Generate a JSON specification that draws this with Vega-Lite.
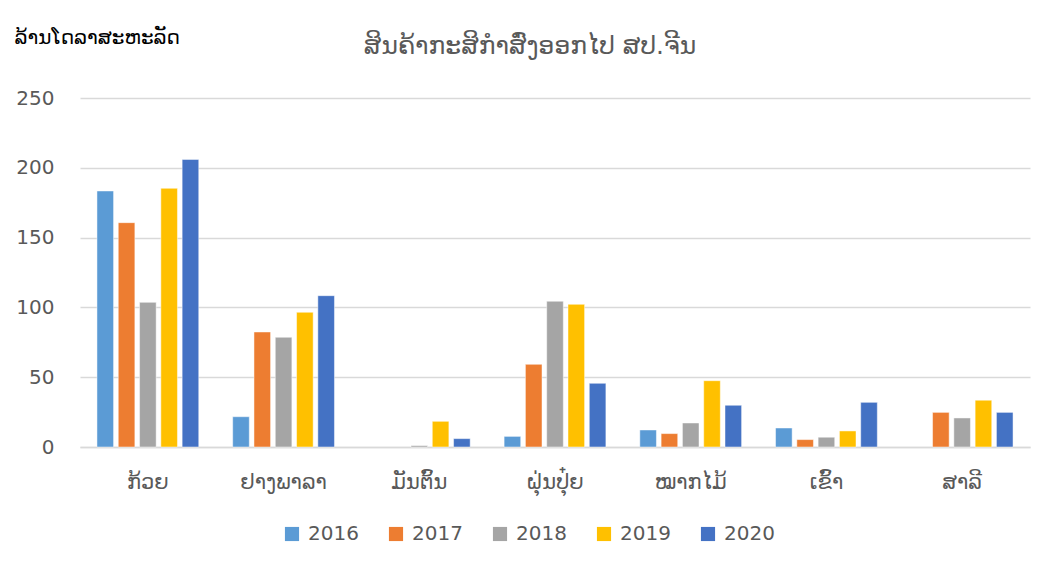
{
  "$schema": "https://vega.github.io/schema/vega-lite/v6.json",
  "autosize": "none",
  "width": 950,
  "height": 349,
  "padding": {"left": 80, "top": 98, "right": 13, "bottom": 118},
  "background": "white",
  "title": {
    "text": "ສິນຄ້າກະສິກຳສົ່ງອອກໄປ ສປ.ຈີນ",
    "anchor": "middle",
    "frame": "group",
    "fontSize": 25,
    "fontWeight": "normal",
    "color": "#595959",
    "font": "DejaVu Sans",
    "dx": -25,
    "offset": -44,
    "baseline": "middle"
  },
  "data": {
    "values": [
      {"cat": "ກ້ວຍ", "year": "2016", "value": 183.4},
      {"cat": "ກ້ວຍ", "year": "2017", "value": 160.7},
      {"cat": "ກ້ວຍ", "year": "2018", "value": 103.6},
      {"cat": "ກ້ວຍ", "year": "2019", "value": 185.3},
      {"cat": "ກ້ວຍ", "year": "2020", "value": 206.0},
      {"cat": "ຢາງພາລາ", "year": "2016", "value": 21.7},
      {"cat": "ຢາງພາລາ", "year": "2017", "value": 82.4},
      {"cat": "ຢາງພາລາ", "year": "2018", "value": 78.6},
      {"cat": "ຢາງພາລາ", "year": "2019", "value": 96.5},
      {"cat": "ຢາງພາລາ", "year": "2020", "value": 108.4},
      {"cat": "ມັນຕົ້ນ", "year": "2018", "value": 1.0},
      {"cat": "ມັນຕົ້ນ", "year": "2019", "value": 18.4},
      {"cat": "ມັນຕົ້ນ", "year": "2020", "value": 6.0},
      {"cat": "ຝຸ່ນປຸ໋ຍ", "year": "2016", "value": 7.6},
      {"cat": "ຝຸ່ນປຸ໋ຍ", "year": "2017", "value": 59.2},
      {"cat": "ຝຸ່ນປຸ໋ຍ", "year": "2018", "value": 104.4},
      {"cat": "ຝຸ່ນປຸ໋ຍ", "year": "2019", "value": 102.2},
      {"cat": "ຝຸ່ນປຸ໋ຍ", "year": "2020", "value": 45.6},
      {"cat": "ໝາກໄມ້", "year": "2016", "value": 12.2},
      {"cat": "ໝາກໄມ້", "year": "2017", "value": 9.6},
      {"cat": "ໝາກໄມ້", "year": "2018", "value": 17.2},
      {"cat": "ໝາກໄມ້", "year": "2019", "value": 47.5},
      {"cat": "ໝາກໄມ້", "year": "2020", "value": 29.9},
      {"cat": "ເຂົ້າ", "year": "2016", "value": 13.6},
      {"cat": "ເຂົ້າ", "year": "2017", "value": 5.3},
      {"cat": "ເຂົ້າ", "year": "2018", "value": 7.0},
      {"cat": "ເຂົ້າ", "year": "2019", "value": 11.5},
      {"cat": "ເຂົ້າ", "year": "2020", "value": 32.0},
      {"cat": "ສາລີ", "year": "2017", "value": 24.8},
      {"cat": "ສາລີ", "year": "2018", "value": 20.8},
      {"cat": "ສາລີ", "year": "2019", "value": 33.5},
      {"cat": "ສາລີ", "year": "2020", "value": 24.8}
    ]
  },
  "mark": {"type": "bar", "stroke": "white", "strokeWidth": 0.8, "strokeOpacity": 0.6},
  "encoding": {
    "x": {
      "field": "cat",
      "type": "nominal",
      "sort": ["ກ້ວຍ", "ຢາງພາລາ", "ມັນຕົ້ນ", "ຝຸ່ນປຸ໋ຍ", "ໝາກໄມ້", "ເຂົ້າ", "ສາລີ"],
      "scale": {"paddingInner": 0.25, "paddingOuter": 0.125},
      "axis": {
        "title": null,
        "labelAngle": 0,
        "labelFontSize": 21,
        "labelColor": "#595959",
        "labelFont": "DejaVu Sans",
        "labelPadding": 35,
        "labelBaseline": "middle",
        "ticks": false,
        "domainColor": "#D9D9D9",
        "domainWidth": 1.5,
        "grid": false
      }
    },
    "xOffset": {
      "field": "year",
      "type": "nominal",
      "sort": ["2016", "2017", "2018", "2019", "2020"],
      "scale": {"paddingInner": 0.22, "paddingOuter": 0}
    },
    "y": {
      "field": "value",
      "type": "quantitative",
      "scale": {"domain": [0, 250], "nice": false},
      "axis": {
        "values": [0, 50, 100, 150, 200, 250],
        "title": "ລ້ານໂດລາສະຫະລັດ",
        "titleAngle": 0,
        "titleAlign": "left",
        "titleBaseline": "middle",
        "titleX": -66,
        "titleY": -61,
        "titleFontSize": 20,
        "titleFontWeight": "normal",
        "titleColor": "#000000",
        "titleFont": "DejaVu Sans",
        "labelFontSize": 20,
        "labelColor": "#595959",
        "labelFont": "DejaVu Sans",
        "labelPadding": 26,
        "ticks": false,
        "domain": false,
        "gridColor": "#D9D9D9",
        "gridWidth": 1.5
      }
    },
    "color": {
      "field": "year",
      "type": "nominal",
      "sort": ["2016", "2017", "2018", "2019", "2020"],
      "scale": {
        "domain": ["2016", "2017", "2018", "2019", "2020"],
        "range": ["#5B9BD5", "#ED7D31", "#A5A5A5", "#FFC000", "#4472C4"]
      },
      "legend": {
        "title": null,
        "orient": "none",
        "legendX": 202,
        "legendY": 426,
        "direction": "horizontal",
        "symbolType": "square",
        "symbolSize": 200,
        "symbolStrokeWidth": 0,
        "labelFontSize": 20,
        "labelColor": "#595959",
        "labelFont": "DejaVu Sans",
        "labelOffset": 6,
        "columnPadding": 27
      }
    }
  },
  "config": {
    "view": {"stroke": null}
  }
}
